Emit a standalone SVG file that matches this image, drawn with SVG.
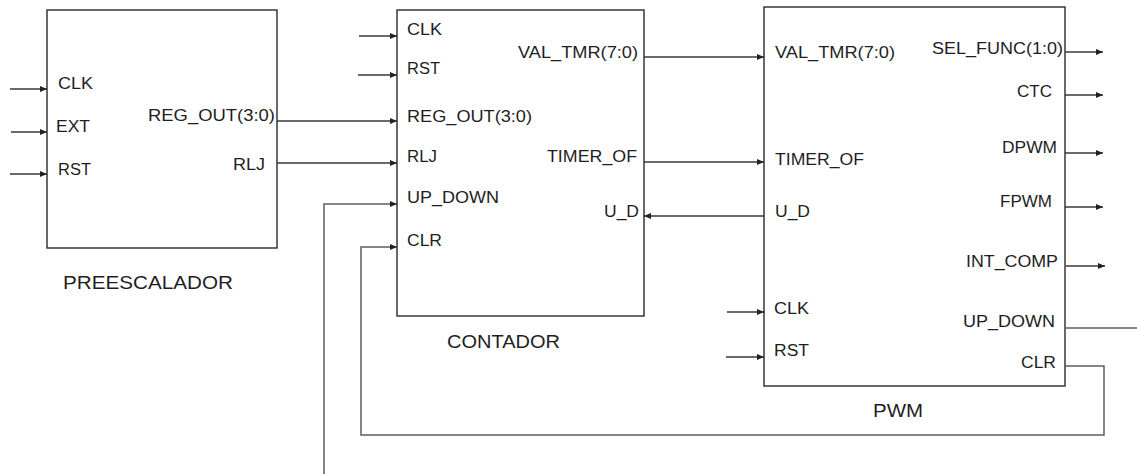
<svg xmlns="http://www.w3.org/2000/svg" width="1137" height="474" viewBox="0 0 1137 474">
<style>
.box{fill:#fff;stroke:#2a2a2a;stroke-width:1.4}
.lbl{font-family:"Liberation Sans",Arial,sans-serif;font-size:16px;fill:#1e1e1e}
.ttl{font-family:"Liberation Sans",Arial,sans-serif;font-size:19px;fill:#1e1e1e}
.w{fill:none;stroke:#3a3a3a;stroke-width:1.3}
.fb{fill:none;stroke:#5e5e5e;stroke-width:1.5}
.a{marker-end:url(#ah)}
</style>
<defs>
<marker id="ah" markerUnits="userSpaceOnUse" markerWidth="8" markerHeight="6" refX="7" refY="3" orient="auto">
<path d="M0,0 L7,3 L0,6 z" fill="#222"/>
</marker>
</defs>
<rect width="1137" height="474" fill="#fff"/>
<g id="connectors">
<path class="w a" d="M10,89 H47"/>
<path class="w a" d="M11,132 H47"/>
<path class="w a" d="M10,174 H47"/>
<path class="w a" d="M277,121 H397"/>
<path class="w a" d="M277,163 H397"/>
<path class="w a" d="M359,36 H397"/>
<path class="w a" d="M358,75 H397"/>
<path class="fb a" d="M324,474 V204 H397"/>
<path class="fb a" d="M1066,366 H1104 V435 H361 V247 H397"/>
<path class="w a" d="M644,57 H764"/>
<path class="w a" d="M644,162 H764"/>
<path class="w a" d="M764,216 H644"/>
<path class="w a" d="M727,312 H764"/>
<path class="w a" d="M726,357 H764"/>
<path class="w a" d="M1065,52 H1103"/>
<path class="w a" d="M1065,95 H1103"/>
<path class="w a" d="M1065,153 H1103"/>
<path class="w a" d="M1065,207 H1103"/>
<path class="w a" d="M1066,266 H1105"/>
<path class="fb" d="M1066,328 H1137"/>
</g>
<g id="preescalador">
<rect class="box" x="47" y="10" width="230" height="238"/>
<text class="lbl" x="58" y="89" textLength="35" lengthAdjust="spacingAndGlyphs">CLK</text>
<text class="lbl" x="56" y="132" textLength="34" lengthAdjust="spacingAndGlyphs">EXT</text>
<text class="lbl" x="58" y="175" textLength="33" lengthAdjust="spacingAndGlyphs">RST</text>
<text class="lbl" x="148" y="121" textLength="127" lengthAdjust="spacingAndGlyphs">REG_OUT(3:0)</text>
<text class="lbl" x="233" y="170" textLength="32" lengthAdjust="spacingAndGlyphs">RLJ</text>
<text class="ttl" x="63" y="289" textLength="170" lengthAdjust="spacingAndGlyphs">PREESCALADOR</text>
</g>
<g id="contador">
<rect class="box" x="397" y="10" width="247" height="306"/>
<text class="lbl" x="407" y="34.5" textLength="35" lengthAdjust="spacingAndGlyphs">CLK</text>
<text class="lbl" x="407" y="74" textLength="33" lengthAdjust="spacingAndGlyphs">RST</text>
<text class="lbl" x="407" y="122" textLength="125" lengthAdjust="spacingAndGlyphs">REG_OUT(3:0)</text>
<text class="lbl" x="407" y="162" textLength="30" lengthAdjust="spacingAndGlyphs">RLJ</text>
<text class="lbl" x="407" y="203" textLength="92" lengthAdjust="spacingAndGlyphs">UP_DOWN</text>
<text class="lbl" x="407" y="246" textLength="35" lengthAdjust="spacingAndGlyphs">CLR</text>
<text class="lbl" x="518" y="58" textLength="120" lengthAdjust="spacingAndGlyphs">VAL_TMR(7:0)</text>
<text class="lbl" x="547" y="162" textLength="90" lengthAdjust="spacingAndGlyphs">TIMER_OF</text>
<text class="lbl" x="604" y="217" textLength="35" lengthAdjust="spacingAndGlyphs">U_D</text>
<text class="ttl" x="447" y="348" textLength="113" lengthAdjust="spacingAndGlyphs">CONTADOR</text>
</g>
<g id="pwm">
<rect class="box" x="764" y="7" width="301" height="379"/>
<text class="lbl" x="775" y="58" textLength="120" lengthAdjust="spacingAndGlyphs">VAL_TMR(7:0)</text>
<text class="lbl" x="775" y="165" textLength="89" lengthAdjust="spacingAndGlyphs">TIMER_OF</text>
<text class="lbl" x="775" y="217" textLength="35" lengthAdjust="spacingAndGlyphs">U_D</text>
<text class="lbl" x="774" y="314" textLength="35" lengthAdjust="spacingAndGlyphs">CLK</text>
<text class="lbl" x="774" y="356" textLength="35" lengthAdjust="spacingAndGlyphs">RST</text>
<text class="lbl" x="932" y="54" textLength="131" lengthAdjust="spacingAndGlyphs">SEL_FUNC(1:0)</text>
<text class="lbl" x="1017" y="97" textLength="35" lengthAdjust="spacingAndGlyphs">CTC</text>
<text class="lbl" x="1002" y="153" textLength="55" lengthAdjust="spacingAndGlyphs">DPWM</text>
<text class="lbl" x="1000" y="207" textLength="52" lengthAdjust="spacingAndGlyphs">FPWM</text>
<text class="lbl" x="966" y="267" textLength="92" lengthAdjust="spacingAndGlyphs">INT_COMP</text>
<text class="lbl" x="963" y="327" textLength="92" lengthAdjust="spacingAndGlyphs">UP_DOWN</text>
<text class="lbl" x="1021" y="368" textLength="35" lengthAdjust="spacingAndGlyphs">CLR</text>
<text class="ttl" x="873" y="417" textLength="50" lengthAdjust="spacingAndGlyphs">PWM</text>
</g>
</svg>
